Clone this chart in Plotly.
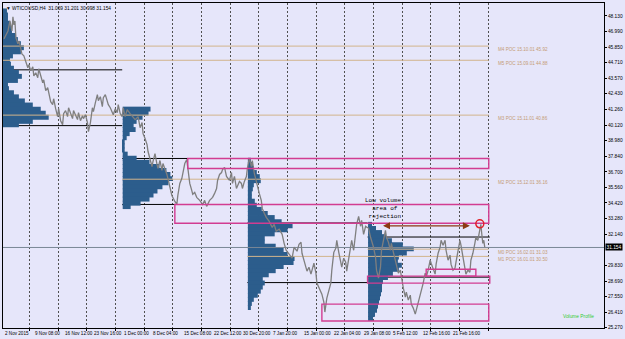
import plotly.graph_objects as go

# ---------------- data ----------------
title_text = "▼ WTICOUSD,H4  31.069 31.201 30.998 31.154"

date_labels = ["2 Nov 2015", "9 Nov 08:00", "16 Nov 12:00", "23 Nov 16:00", "1 Dec 00:00",
               "8 Dec 04:00", "15 Dec 08:00", "22 Dec 12:00", "30 Dec 20:00", "7 Jan 20:00",
               "15 Jan 00:00", "22 Jan 04:00", "29 Jan 08:00", "5 Feb 12:00", "12 Feb 16:00",
               "21 Feb 16:00"]
date_label_bars = [0, 30, 60, 90, 120, 149, 180, 210, 240, 270, 301, 331, 361, 391, 421, 451]
grid_bars = [26.7, 55.6, 84.4, 113.3, 142.1, 171, 199.9, 228.7, 257.6, 286.4, 315.3, 344.2,
             373, 401.9, 430.7, 459.6, 488.5]

price_ticks = [48.13, 46.99, 45.85, 44.71, 43.57, 42.43, 41.26, 40.12, 38.98, 37.84, 36.70,
               35.56, 34.42, 33.28, 32.14, 29.83, 28.69, 27.55, 26.41, 25.27]
price_tick_text = ["48.130", "46.990", "45.850", "44.710", "43.570", "42.430", "41.260",
                   "40.120", "38.980", "37.840", "36.700", "35.560", "34.420", "33.280",
                   "32.140", "29.830", "28.690", "27.550", "26.410", "25.270"]
last_price = 31.154

# H4 price path (bar index, price)
price_bars = [1, 3, 5, 7, 9, 10, 11, 12, 13, 15, 16, 18, 19, 21, 22, 23, 25, 26, 28, 30, 31, 33, 35,
              36, 38, 40, 41, 43, 45, 46, 48, 50, 51, 53, 55, 56, 58, 60, 61, 63, 65, 66, 68, 70,
              71, 73, 75, 76, 78, 80, 81, 83, 85, 86, 88, 90, 91, 93, 95, 96, 98, 100, 101, 103,
              105, 106, 108, 110, 111, 113, 115, 116, 118, 120,
              121, 123, 125, 128, 131, 133, 136, 138, 140, 141, 143, 145, 146, 148, 150, 151, 153,
              155, 156, 158, 160, 161, 163, 165, 166, 168, 170, 173, 175, 176, 178, 180, 181, 183,
              185, 186, 188, 190, 191, 193, 195, 198, 201, 203, 205, 208, 211, 213, 215, 216, 218,
              220, 221, 223, 225, 228, 230, 231, 233, 235, 238, 240, 241, 243, 245, 246, 248,
              250, 251, 253, 256, 258, 260, 261, 263, 265, 268, 271, 273, 275, 278, 281, 283, 285,
              288, 291, 293, 296, 298, 300, 301, 303, 305, 306, 308, 310, 313, 315, 316, 318, 320,
              321, 323, 324, 326, 328, 330, 331, 333, 335, 336, 338, 340, 341, 343, 345, 346, 348,
              350, 351, 353, 355, 356, 358, 360, 361, 363, 365,
              368, 370, 373, 375, 376, 378, 380, 381, 383, 385, 386, 388, 390, 391, 393, 395, 396,
              398, 400, 401, 403, 405, 406, 408, 410, 411, 413, 415, 416, 418, 420, 421, 423, 425,
              426, 428, 430, 431, 433, 435, 436, 438, 440, 441, 443, 445, 446, 448, 450, 451, 453,
              455, 456, 458, 460, 461, 463, 465, 466, 468, 470, 471, 473, 475, 476, 478, 480, 481,
              482, 483, 484, 485]
price_close = [46.45, 46.81, 47.03, 47.76, 47.03, 48.06, 47.47, 47.76, 46.52, 46.08, 46.30, 45.72,
               45.35, 45.21, 44.99, 44.84, 44.33, 44.55, 44.11, 44.40, 43.74, 43.96, 43.60, 44.26,
               43.67, 43.23, 43.45, 42.65, 42.87, 42.43, 41.84, 41.63, 42.06, 41.33, 40.75, 41.33,
               40.45, 40.16, 40.97, 41.19, 40.75, 41.40, 41.04, 40.60, 41.19, 40.82, 40.53, 41.04,
               40.45, 40.82, 40.60, 40.89, 40.31, 39.65, 40.31, 41.40, 41.11, 41.77, 42.36, 41.92,
               42.21, 41.48, 42.14, 42.36, 41.92, 41.63, 41.40, 41.11, 40.89, 41.33, 41.04, 41.63,
               40.97, 40.75,
               41.40, 40.75, 41.26, 40.97, 40.67, 40.53, 40.75, 39.94, 40.31, 39.50, 39.14, 38.70,
               38.19, 37.53, 37.09, 37.46, 38.04, 37.24, 36.95, 37.53, 36.80, 37.31, 36.95, 36.51,
               36.21, 35.63, 34.97, 34.53, 34.31, 34.97, 35.85, 36.21, 36.58, 37.31, 37.60, 36.95,
               35.85, 35.34, 35.05, 35.19, 34.83, 34.61, 34.31, 34.61, 34.17, 34.61, 34.83, 35.12,
               35.48, 36.07, 36.51, 36.65, 36.87, 37.02, 36.36, 36.07, 36.65, 35.85, 36.36, 35.48,
               36.00, 35.85, 35.48, 36.00, 36.36, 36.95, 37.68,
               37.09, 37.53, 36.58, 35.56, 35.12, 34.61, 34.02, 33.66, 33.36, 33.07, 32.63, 32.85,
               32.34, 32.49, 32.12, 31.46, 30.95, 30.66, 30.37, 31.17, 30.88, 31.39, 31.54, 30.73,
               30.15, 29.71, 29.42, 29.71, 29.20, 30.00, 29.27, 28.54, 28.17, 27.95, 27.73, 27.15,
               26.42, 27.44, 28.03, 28.54, 29.49, 30.80, 31.10, 31.68, 30.80, 30.08, 29.71, 30.37,
               30.08, 29.42, 30.44, 31.17, 31.68, 30.95, 31.97, 32.85, 33.44, 32.71, 33.14, 32.12,
               32.71,
               32.56, 31.90, 31.17, 30.44, 29.49, 28.91, 29.71, 30.95, 31.68, 32.41, 31.90, 31.54,
               30.95, 31.46, 30.80, 30.22, 29.71, 29.27, 29.49, 28.98, 28.17, 27.52, 27.88, 27.30,
               27.66, 27.00, 26.71, 26.27, 26.56, 27.08, 27.52, 28.03, 28.54, 29.27, 28.98, 29.49,
               30.22, 30.00, 29.64, 29.20, 29.93, 30.73, 31.17, 31.68, 31.32, 31.68, 30.95, 30.22,
               30.59, 29.93, 29.49, 29.64, 30.08, 30.95, 31.68, 31.32, 30.44, 29.71, 29.20, 29.49,
               29.34, 30.22, 30.73, 31.46, 31.90, 31.68, 32.41, 32.85, 32.12, 31.46, 31.68, 31.15]

# monthly volume profiles: start bar, level centres (price), volume (bars)
profile_step = 0.3
nov_start = 0
nov_levels = [48.5, 48.2, 47.9, 47.6, 47.3, 47.0, 46.7, 46.4, 46.1, 45.8, 45.5, 45.2, 44.9, 44.6,
              44.3, 44.0, 43.7, 43.4, 43.1, 42.8, 42.5, 42.2, 41.9, 41.6, 41.3, 41.0, 40.7, 40.4,
              40.15]
nov_volume = [4, 5, 5, 7, 8, 9, 13, 15, 18, 21, 18, 10, 7, 8, 11, 16, 19, 15, 5, 6, 11, 16, 22,
              30, 38, 43, 46, 30, 16]
dec_start = 120.5
dec_levels = [41.3, 41.0, 40.7, 40.4, 40.1, 39.8, 39.5, 39.2, 38.9, 38.6, 38.3, 38.0, 37.7, 37.4,
              37.1, 36.8, 36.5, 36.2, 35.9, 35.6, 35.3, 35.0, 34.7, 34.4, 34.15]
dec_volume = [28, 26, 20, 14, 11, 13, 7, 4, 2, 2, 2, 5, 14, 27, 37, 44, 48, 50, 46, 40, 35, 31,
              27, 18, 8]
jan_start = 246.5
jan_levels = [37.55, 37.25, 36.95, 36.65, 36.35, 36.05, 35.75, 35.45, 35.15, 34.85, 34.55, 34.25,
              33.95, 33.65, 33.35, 33.05, 32.75, 32.45, 32.15, 31.85, 31.55, 31.25, 30.95, 30.65,
              30.35, 30.05, 29.75, 29.45, 29.15, 28.85, 28.55, 28.25, 27.95, 27.65, 27.35, 27.05,
              26.75]
jan_volume = [3, 5, 6, 9, 12, 13, 6, 5, 4, 4, 7, 9, 14, 20, 27, 34, 45, 40, 27, 17, 17, 28, 36,
              40, 47, 46, 36, 28, 21, 15, 17, 15, 13, 10, 6, 4, 3]
feb_start = 367.5
feb_levels = [32.85, 32.55, 32.25, 31.95, 31.65, 31.35, 31.05, 30.75, 30.45, 30.15, 29.85, 29.55,
              29.25, 28.95, 28.65, 28.35, 28.05, 27.75, 27.45, 27.15, 26.85, 26.55, 26.25, 25.95]
feb_volume = [4, 8, 14, 18, 24, 35, 46, 39, 31, 30, 34, 31, 25, 20, 15, 14, 14, 13, 12, 11, 10,
              9, 7, 5]

# value-area lines: (start bar, end bar, price)
va_lines = [(0, 120, 44.18), (0, 120, 40.09), (120, 186, 37.68), (120, 173, 34.31),
            (246, 367, 32.95), (246, 367, 28.58), (367, 490, 31.92), (367, 490, 28.98)]

# monthly POC lines: (label, start bar, price)
poc_lines = [("M4 POC 15.10.01 45.92", 0, 45.92), ("M5 POC 15.09.01 44.88", 0, 44.88),
             ("M3 POC 15.11.01 40.86", 0, 40.86), ("M2 POC 15.12.01 36.16", 120, 36.16),
             ("M0 POC 16.02.01 31.03", 367, 31.03), ("M1 POC 16.01.01 30.50", 246, 30.50)]
poc_end = 489
poc_label_bar = 496

# zones drawn on chart: (x0 bar, x1 bar, price low, price high)
zones = [(186, 489, 36.95, 37.68), (173, 489, 32.93, 34.31), (321, 489, 25.76, 27.00),
         (367, 490, 28.54, 29.05), (426, 476, 29.05, 29.56)]

arrow_from, arrow_to, arrow_price = 381, 470, 32.74
circle_bar, circle_price = 480, 32.89
note_text = "Low volume:<br>area of<br>rejection"
note_bar, note_price = 385, 33.98

# ---------------- style ----------------
BG = "#E6E6FA"
PROFILE = "#2C5D8C"
TAN = "#D2B48C"
TAN_TXT = "#C59C76"
PINK = "#D23C91"
FONT = "Liberation Sans"

fig = go.Figure()

# profiles
for start, levels, vols in [(nov_start, nov_levels, nov_volume), (dec_start, dec_levels, dec_volume),
                            (jan_start, jan_levels, jan_volume), (feb_start, feb_levels, feb_volume)]:
    fig.add_trace(go.Bar(orientation="h", y=levels, x=vols, base=start, width=profile_step * 1.2,
                         marker=dict(color=PROFILE, line=dict(width=0)), showlegend=False,
                         hoverinfo="skip"))

# POC lines
for label, start, p in poc_lines:
    fig.add_trace(go.Scatter(x=[start, poc_end], y=[p, p], mode="lines",
                             line=dict(color=TAN, width=1), showlegend=False, hoverinfo="skip"))
    fig.add_annotation(x=poc_label_bar, y=p, text=label, showarrow=False, xanchor="left",
                       yanchor="top", font=dict(size=4.6, color=TAN_TXT, family=FONT), yshift=1)

# current price line
fig.add_trace(go.Scatter(x=[0, 605], y=[last_price, last_price], mode="lines",
                         line=dict(color="#7A8796", width=1), showlegend=False, hoverinfo="skip"))

# price
fig.add_trace(go.Scatter(x=price_bars, y=price_close, mode="lines",
                         line=dict(color="#7F7F7F", width=1.3), showlegend=False,
                         hoverinfo="skip"))

shapes = []
for x0, x1, p in va_lines:
    shapes.append(dict(type="line", x0=x0, x1=x1, y0=p, y1=p, xref="x", yref="y",
                       line=dict(color="black", width=1), layer="between"))
for x0, x1, p0, p1 in zones:
    shapes.append(dict(type="rect", x0=x0, x1=x1, y0=p0, y1=p1, xref="x", yref="y",
                       line=dict(color=PINK, width=1.4), fillcolor="rgba(0,0,0,0)"))
shapes.append(dict(type="circle", x0=circle_bar - 4, x1=circle_bar + 4,
                   y0=circle_price - 0.29, y1=circle_price + 0.29, xref="x", yref="y",
                   line=dict(color="#E0202A", width=1.5)))
fig.update_layout(shapes=shapes)

# arrow
fig.add_annotation(x=arrow_to, y=arrow_price, ax=arrow_from, ay=arrow_price, axref="x", ayref="y",
                   xref="x", yref="y", text="", showarrow=True, arrowhead=2, startarrowhead=2,
                   arrowside="end+start", arrowcolor="#8B3A12", arrowwidth=1.4, arrowsize=1,
                   startarrowsize=1)
fig.add_annotation(x=note_bar, y=note_price, text=note_text, showarrow=False,
                   font=dict(size=6, color="black", family="Liberation Mono"), align="center")

# title
fig.add_annotation(xref="paper", yref="paper", x=0, y=1, xanchor="left", yanchor="top",
                   text=title_text, showarrow=False, xshift=1, yshift=-1,
                   font=dict(size=4.8, color="black", family=FONT))
# volume profile label
fig.add_annotation(x=597, y=26.09, text="Volume Profile", showarrow=False, xanchor="right",
                   font=dict(size=4.8, color="#33CC33", family=FONT))
# last price box
fig.add_annotation(xref="paper", yref="y", x=1, y=last_price, xanchor="left", text="31.154",
                   showarrow=False, xshift=1, bgcolor="black", borderpad=0.5,
                   font=dict(size=4.8, color="white", family=FONT))
# date labels
for lab, b in zip(date_labels, date_label_bars):
    fig.add_annotation(x=b, xref="x", yref="paper", y=0, yanchor="top", xanchor="left",
                       text=lab, showarrow=False, yshift=-1,
                       font=dict(size=4.6, color="black", family=FONT))

fig.update_layout(
    width=625, height=339, margin=dict(l=2, r=18, t=2, b=11),
    paper_bgcolor=BG, plot_bgcolor=BG, barmode="overlay",
    font=dict(family=FONT, size=5, color="black"),
    xaxis=dict(range=[0, 605], tickvals=grid_bars, showticklabels=False, ticks="outside",
               ticklen=2, tickcolor="black", showgrid=True, gridcolor="#505050",
               griddash="2px,2px", gridwidth=0.8, zeroline=False, showline=True,
               linecolor="black", linewidth=1, mirror=True, fixedrange=True),
    yaxis=dict(range=[25.25, 49.08], side="right", tickvals=price_ticks,
               ticktext=price_tick_text, ticks="outside", ticklen=2, tickcolor="black",
               tickfont=dict(size=4.8, family=FONT), showgrid=False, zeroline=False,
               showline=True, linecolor="black", linewidth=1, mirror=True, fixedrange=True),
)

fig.write_html("out.html")
